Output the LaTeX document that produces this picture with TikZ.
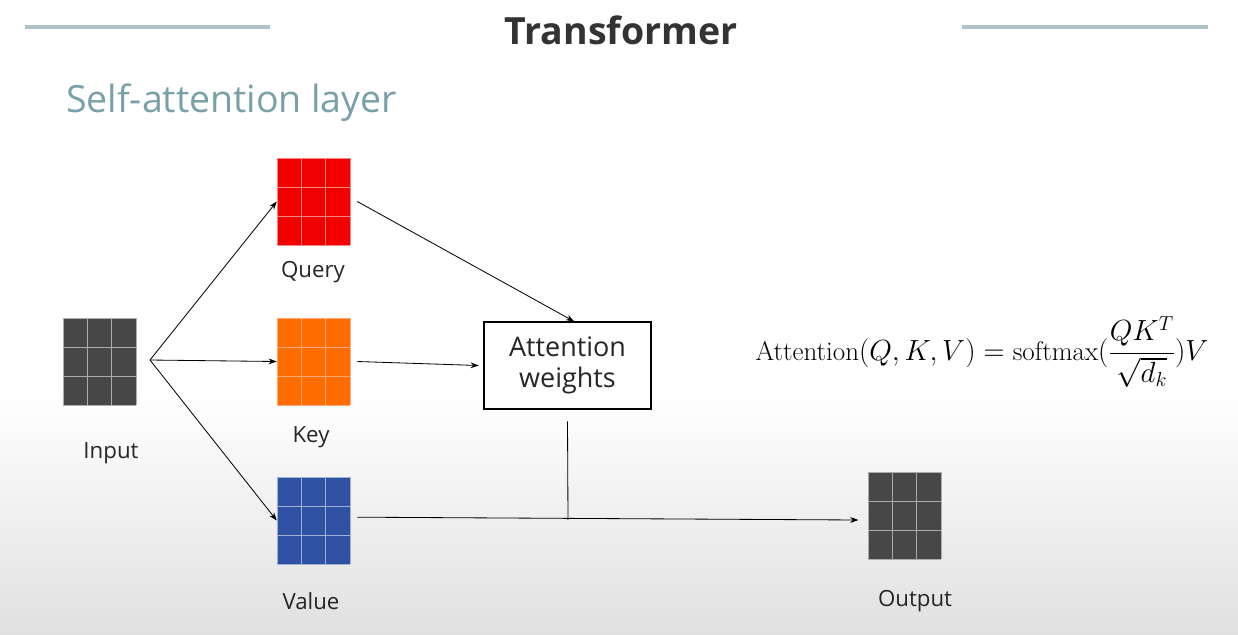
\documentclass[tikz,border=0pt]{standalone}
\usepackage{amsmath}
\usepackage{fontspec}
\setmainfont{Open Sans}
\newfontfamily\lmr{Latin Modern Roman}
\usetikzlibrary{arrows.meta}
\begin{document}
\begin{tikzpicture}[x=0.03cm,y=-0.03cm,
  arr/.style={-{Stealth[length=7pt,width=5pt]},line width=0.7pt},
  lbl/.style={font=\fontsize{19}{22}\selectfont,text=black!85}]
\useasboundingbox (0,0) rectangle (1238,634);
\fill[white] (0,0) rectangle (1238,634);
\shade[top color=white,bottom color=black!12] (0,395) rectangle (1238,634);
\draw[line width=3pt,color={rgb,255:red,175;green,195;blue,198}] (25,27) -- (270,27);
\draw[line width=3pt,color={rgb,255:red,175;green,195;blue,198}] (962,27) -- (1208,27);
\node[font=\bfseries\fontsize{32}{35}\selectfont,text=black!80] (title) at (621,30) {Transformer};
\node[anchor=west,font=\fontsize{32}{35}\selectfont,text={rgb,255:red,120;green,160;blue,168}] (sub) at (62,103) {Self-attention layer};
\newcommand{\mgrid}[4]{%
  \fill[#4] (#2,#3) rectangle ++(73,87);
  \foreach \i in {0,1,2,3}{
    \draw[white!55!#4,line width=0.8pt] (#2+\i*24.33,#3) -- ++(0,87);
    \draw[white!55!#4,line width=0.8pt] (#2,#3+\i*29) -- ++(73,0);}
  \node[inner sep=0,minimum width=2.19cm,minimum height=2.61cm] (#1) at (#2+36.5,#3+43.5) {};}
\definecolor{vblue}{RGB}{47,82,165}
\mgrid{in}{63}{318}{black!72}
\mgrid{q}{277}{158}{red!95!black}
\mgrid{k}{277}{318}{orange!85!red}
\mgrid{v}{277}{477}{vblue}
\mgrid{out}{868}{472}{black!72}
\node[lbl] (inl) at (111,453) {Input};
\node[lbl] (ql) at (313,272) {Query};
\node[lbl] (kl) at (311,437) {Key};
\node[lbl] (vl) at (311,601) {Value};
\node[lbl] (ol) at (915,601) {Output};
\node[draw,line width=1.2pt,minimum width=5cm,minimum height=2.6cm,align=center,
  font=\fontsize{23}{27}\selectfont,text=black!85] (aw) at (567.5,365.5) {Attention\\weights};
\coordinate (src) at (150,360);
\draw[arr] (src) -- (q.west);
\draw[arr] (src) -- (k.west);
\draw[arr] (src) -- (v.west);
\draw[arr] ([xshift=6pt]q.east) -- ([xshift=0.2cm]aw.north);
\draw[arr] ([xshift=6pt]k.east) -- ([xshift=-4pt]aw.west);
\coordinate (j) at (568,520);
\draw[arr] ([xshift=6pt,yshift=0.1cm]v.east) -- ([xshift=-8pt]out.west|-j);
\draw[line width=0.7pt] ([yshift=-10pt]aw.south) -- (j);
\node[font=\fontsize{23}{26}\selectfont] (eq) at (982,352) {$\text{\lmr Attention}(Q,K,V)=\text{\lmr softmax}(\dfrac{QK^T}{\sqrt{d_k}})V$};
\end{tikzpicture}
\end{document}
